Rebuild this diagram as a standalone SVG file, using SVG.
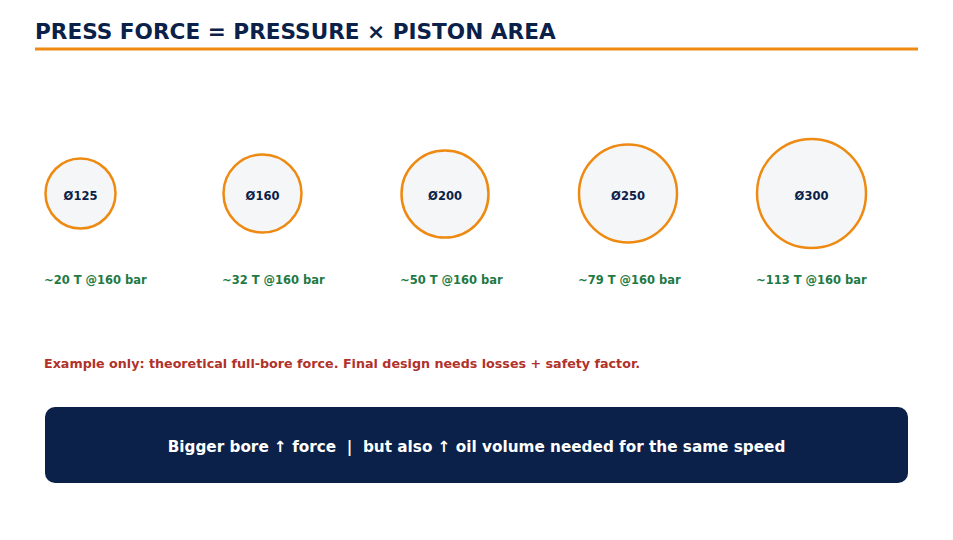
<svg xmlns="http://www.w3.org/2000/svg" width="953" height="540" viewBox="0 0 953 540">
<style>
text{font-family:"DejaVu Sans",sans-serif;font-weight:bold}
.title{font-size:21.6px;fill:#0b2149}
.bore{fill:#f4f6f8;stroke:#ee8a12;stroke-width:2.5}
.bl{font-size:11.5px;fill:#0b2149;text-anchor:middle}
.force{font-size:11.5px;fill:#1e7a45}
.note{font-size:12.7px;fill:#b0322a}
.banner{fill:#0b2149}
.bt{font-size:15.25px;fill:#ffffff;text-anchor:middle;white-space:pre}
</style>
<rect width="953" height="540" fill="#ffffff"/>
<g id="title">
<text class="title" x="35" y="38.5">PRESS FORCE = PRESSURE × PISTON AREA</text>
<rect x="35" y="47.5" width="883" height="3" fill="#ee8a12"/>
</g>
<g id="bore125">
<circle class="bore" cx="80.5" cy="193.5" r="35"/>
<text class="bl" x="80.5" y="199.5">Ø125</text>
<text class="force" x="44" y="284">~20 T @160 bar</text>
</g>
<g id="bore160">
<circle class="bore" cx="262.5" cy="193.5" r="39"/>
<text class="bl" x="262.5" y="199.5">Ø160</text>
<text class="force" x="222" y="284">~32 T @160 bar</text>
</g>
<g id="bore200">
<circle class="bore" cx="445" cy="194" r="43.5"/>
<text class="bl" x="445" y="199.5">Ø200</text>
<text class="force" x="400" y="284">~50 T @160 bar</text>
</g>
<g id="bore250">
<circle class="bore" cx="628" cy="193.5" r="49"/>
<text class="bl" x="628" y="199.5">Ø250</text>
<text class="force" x="578" y="284">~79 T @160 bar</text>
</g>
<g id="bore300">
<circle class="bore" cx="811.5" cy="193.5" r="54.5"/>
<text class="bl" x="811.5" y="199.5">Ø300</text>
<text class="force" x="756" y="284">~113 T @160 bar</text>
</g>
<g id="note">
<text class="note" x="44" y="368">Example only: theoretical full-bore force. Final design needs losses + safety factor.</text>
</g>
<g id="banner">
<rect class="banner" x="45" y="407" width="863" height="76" rx="10"/>
<text class="bt" x="476.5" y="452" xml:space="preserve">Bigger bore ↑ force  |  but also ↑ oil volume needed for the same speed</text>
</g>
<g id="connectors"></g>
</svg>
